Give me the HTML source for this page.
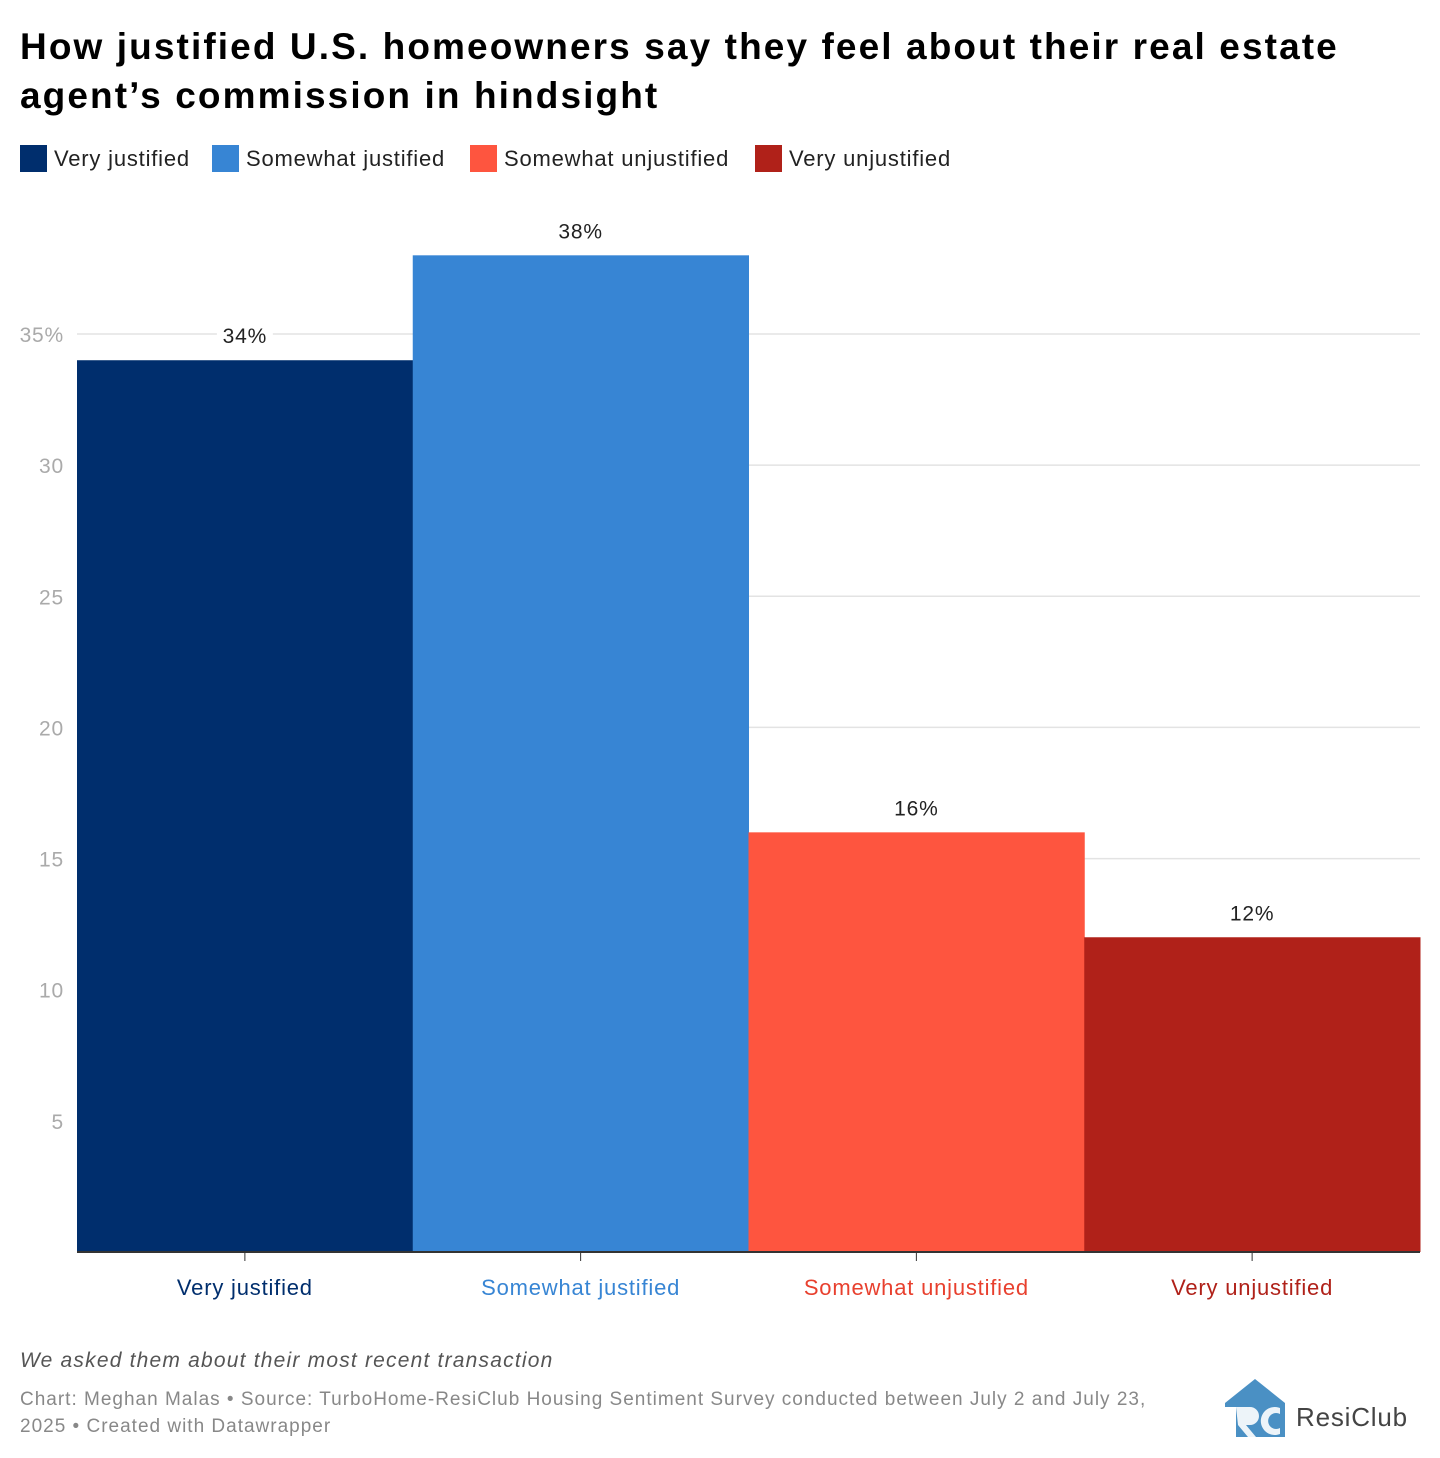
<!DOCTYPE html>
<html><head><meta charset="utf-8"><style>
body{margin:0;background:#fff;font-family:"Liberation Sans",Arial,sans-serif;}
#wrap{position:relative;width:1440px;height:1458px;overflow:hidden;}
h1{position:absolute;left:20px;top:22px;margin:0;font-size:37px;line-height:49px;font-weight:bold;color:#000;letter-spacing:2.1px;width:1380px;}
.leg{position:absolute;top:145px;display:flex;align-items:center;font-size:22px;color:#222;letter-spacing:0.8px;}
.leg i{display:inline-block;width:27px;height:27px;margin-right:7px;}
.note{position:absolute;left:20px;top:1349px;font-size:21px;font-style:italic;color:#555;letter-spacing:1.2px;}
.src{position:absolute;left:20px;top:1386px;font-size:19px;line-height:27px;color:#888;width:1175px;letter-spacing:1px;}
svg text{letter-spacing:0.8px;}
</style></head><body>
<div id="wrap">
<h1>How justified U.S. homeowners say they feel about their real estate agent’s commission in hindsight</h1>
<div class="leg" style="left:20px"><i style="background:#002e6d"></i>Very justified</div>
<div class="leg" style="left:212px"><i style="background:#3785d4"></i>Somewhat justified</div>
<div class="leg" style="left:470px"><i style="background:#fe553f"></i>Somewhat unjustified</div>
<div class="leg" style="left:755px"><i style="background:#b02119"></i>Very unjustified</div>
<svg id="chart" width="1440" height="1340" style="position:absolute;left:0;top:0"></svg>
<div class="note">We asked them about their most recent transaction</div>
<div class="src">Chart: Meghan Malas • Source: TurboHome-ResiClub Housing Sentiment Survey conducted between July 2 and July 23, 2025 • Created with Datawrapper</div>
<svg width="220" height="70" style="position:absolute;left:1220px;top:1375px">
<polygon points="5,28 35,4 65,28 65,62 5,62" fill="#4a90c4"/>
<rect x="5" y="32" width="11" height="30" fill="#fff"/>
<path d="M16,32 h14 a9,9 0 0 1 0,18 h-4 l10,12 h-8 l-10,-12 z" fill="#fff" opacity="0.9"/>
<path d="M60,33 a14,14 0 1 0 0,26 v-6 a8,8 0 1 1 0,-14 z" fill="#fff" opacity="0.9"/>
<text x="76" y="51" font-size="26" fill="#444" font-family="Liberation Sans, sans-serif" letter-spacing="1">ResiClub</text>
</svg>
</div>
<script>
const categories=["Very justified","Somewhat justified","Somewhat unjustified","Very unjustified"];
const values=[34,38,16,12];
const valueLabels=["34%","38%","16%","12%"];
const ticks=[5,10,15,20,25,30,35];
const tickLabels=["5","10","15","20","25","30","35%"];
const colors=["#002e6d","#3785d4","#fe553f","#b02119"];
const labelColors=["#002e6d","#3785d4","#e8402e","#b02119"];
const svg=document.getElementById('chart');
const NS="http://www.w3.org/2000/svg";
const x0=77,x1=1420,yBase=1252,yTop35=334;
const y=v=>yBase-(yBase-yTop35)*v/35;
const bw=(x1-x0)/categories.length;
const xc=i=>x0+bw*i;
function mk(t,a){const e=document.createElementNS(NS,t);for(const k in a)e.setAttribute(k,a[k]);svg.appendChild(e);return e;}
ticks.forEach((t,i)=>{
 const l=mk('line',{x1:x0,x2:x1,y1:y(t),y2:y(t),stroke:'#e3e3e3','stroke-width':1.5});
 
 
 const tx=mk('text',{x:64,y:y(t)+8,'text-anchor':'end','font-size':21,fill:'#aaa'});
 tx.textContent=tickLabels[i];
 
 
});
values.forEach((v,i)=>{
 const r=mk('rect',{x:xc(i),y:y(v),width:bw+0.5,height:yBase-y(v),fill:colors[i]});
 
 
 const bg=mk('rect',{x:xc(i)+bw/2-28,y:y(v)-40,width:56,height:28,fill:'#fff'});
 
 
 const t=mk('text',{x:xc(i)+bw/2,y:y(v)-17,'text-anchor':'middle','font-size':21,fill:'#222'});
 t.textContent=valueLabels[i];
 
 
 const tk=mk('line',{x1:xc(i)+bw/2,x2:xc(i)+bw/2,y1:yBase,y2:yBase+9,stroke:'#333','stroke-width':1});
 
 
 const c=mk('text',{x:xc(i)+bw/2,y:1295,'text-anchor':'middle','font-size':22,fill:labelColors[i]});
 c.textContent=categories[i];
 
 
});
const ax=mk('line',{x1:x0,x2:x1,y1:yBase,y2:yBase,stroke:'#333','stroke-width':2});


</script>
</body></html>
